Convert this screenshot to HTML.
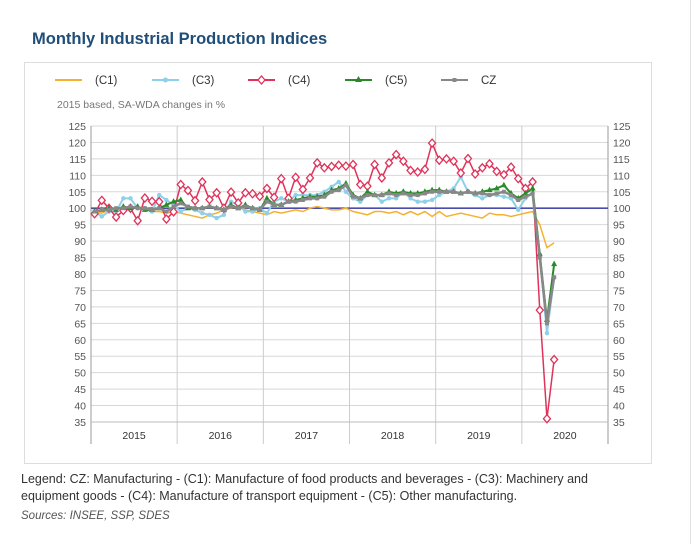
<!DOCTYPE html>
<html><head><meta charset="utf-8"><style>
body{margin:0;width:698px;height:544px;background:#fff;font-family:"Liberation Sans",sans-serif;position:relative;overflow:hidden}
.t{position:absolute;white-space:nowrap}
</style></head><body>
<div style="position:absolute;left:0;top:0;width:690px;height:544px;border-right:1px solid #e2e2e2"></div>
<div class="t" style="left:32px;top:30px;font-size:16.5px;font-weight:bold;color:#1f4e79">Monthly Industrial Production Indices</div>
<div style="position:absolute;left:24px;top:62px;width:626px;height:400px;border:1px solid #ddd"></div>
<svg id="c" width="698" height="544" style="position:absolute;left:0;top:0" font-family="Liberation Sans, sans-serif"></svg>
<div class="t" style="left:21px;top:471px;font-size:12.5px;color:#333;line-height:17px;white-space:normal;width:618px">Legend: CZ: Manufacturing - (C1): Manufacture of food products and beverages - (C3): Machinery and equipment goods - (C4): Manufacture of transport equipment - (C5): Other manufacturing.</div>
<div class="t" style="left:21px;top:510px;font-size:11.5px;color:#555;font-style:italic">Sources: INSEE, SSP, SDES</div>
<script>
const years=["2015","2016","2017","2018","2019","2020"];
const yTicks=[35,40,45,50,55,60,65,70,75,80,85,90,95,100,105,110,115,120,125];
const c1=[99,98.5,99.5,100,100,100.5,100,99.5,99,99,98.5,99, 98.5,98,97.5,97,98,98.5,99.5,100,100.5,99.5,99,98.5, 98,99,98.5,99,99.5,99,100,100.5,100,99.5,99.5,100, 99,98.5,98,99,99,98.5,99,98,99,98,99,97.5, 99,97.5,98,98.5,98,97.5,97,98.5,98,98,97.5,98, 98.5,99,95,88,89.5];
const c3=[99,97.5,99,99,103,103,100,100,99,104,102.5,101, 99,100,99.5,98.5,98,97,98,102,101,99,99,100, 98.5,102,103,102,104,104,104,104,105,106.5,108,105, 103,102,104,104,102,103,103,105,103,102,102,102.5, 104,105,106,109.5,105,104,103,104,104,103.5,103,99.5, 103,104.5,86,62,79];
const c4=[98.3,102.4,100,97.3,99.3,100,96.2,103.1,102.1,102,96.7,98.9, 107.2,105.4,102.3,108,102.6,104.7,100,104.9,101.6,104.7,104.4,103.6, 106,103.3,109,103,109.4,105.7,109.2,113.8,112.3,112.7,113.1,112.8, 113.3,107.2,106.7,113.3,109.2,113.8,116.3,114.3,111.5,111,111.8,119.8, 114.6,115,114.3,110.7,115.1,110.4,112.3,113.5,111.2,110.2,112.5,109, 106,108,69,36,54];
const c5=[99,99.5,100,99.5,100.5,100,100.5,99.5,99.5,100,101,102, 102.5,100,100,100,100.5,100,99.5,101,100,101,100,99.5, 103,101,101,102,102.5,103,103.5,103.5,104,105.5,106,107.5, 104,103,105,104,104,105,104.5,105,104.5,104.5,105,105.5, 105.5,105,105,104.5,105,104.5,105,105.5,106,107,104.5,103, 104.5,106,86,66,83];
const cz=[99,99.5,99.5,100,100,100.5,100,100,99.5,100,99,100.5, 101.5,100.5,100,100,100.5,100,99.5,100.5,100,100.5,100,99.5, 102,101,101,102,102,102.5,103,103,103.5,105,105.5,107, 103.5,103,104,104,104,104.5,104,104.5,104,104,104.5,105, 105,105,105,104.5,105,104.5,104.5,104,104.5,105,104,102.5, 103.5,104.5,85,65,79];
const svg=document.getElementById('c');
const NS='http://www.w3.org/2000/svg';
const L=91,R=608,T=126,B=422,ymin=35,ymax=125;
const mw=(R-L)/72;
const xs=i=>L+(i+0.5)*mw;
const ys=v=>B-(v-ymin)/(ymax-ymin)*(B-T);
function el(tag,a,parent){const e=document.createElementNS(NS,tag);for(const k in a)e.setAttribute(k,a[k]);(parent||svg).appendChild(e);return e;}
yTicks.forEach(v=>{
 const g=el('line',{x1:L,x2:R,y1:ys(v),y2:ys(v),stroke:'#d8d8d8','stroke-width':1});
 
 
 const t1=el('text',{x:86,y:ys(v)+4,'text-anchor':'end','font-size':10.5,fill:'#555'});t1.textContent=v;
 
 
 const t2=el('text',{x:613,y:ys(v)+4,'font-size':10.5,fill:'#555'});t2.textContent=v;
 
 
});
for(let k=0;k<=6;k++){
 const x=L+k*12*mw;
 const vl=el('line',{x1:x,x2:x,y1:T,y2:444,stroke:(k==0||k==6)?'#999':'#ccc','stroke-width':1});
 
 
}
years.forEach((y,k)=>{
 const t=el('text',{x:L+(k*12+6)*mw,y:439,'text-anchor':'middle','font-size':10.5,fill:'#333'});t.textContent=y;
 
 
});
const bl=el('line',{x1:L,x2:R,y1:B,y2:B,stroke:'#bbb'});


const ref=el('line',{x1:L,x2:R,y1:ys(100),y2:ys(100),stroke:'#4b4bab','stroke-width':1.6});


function series(data,color,marker,name,w){
 const g=el('g',{});
 
 
 el('polyline',{points:data.map((v,i)=>xs(i)+','+ys(v)).join(' '),fill:'none',stroke:color,'stroke-width':w},g);
 data.forEach((v,i)=>{
  const x=xs(i),y=ys(v);let m;
  if(marker=='circle')m=el('circle',{cx:x,cy:y,r:2.2,fill:color},g);
  else if(marker=='diamond')m=el('polygon',{points:`${x},${y-4} ${x+3.5},${y} ${x},${y+4} ${x-3.5},${y}`,fill:'#fff',stroke:color,'stroke-width':1.3},g);
  else if(marker=='tri')m=el('polygon',{points:`${x},${y-3.5} ${x+3},${y+2} ${x-3},${y+2}`,fill:color},g);
  else if(marker=='sq')m=el('rect',{x:x-2,y:y-2,width:4,height:4,fill:color},g);
  if(m){
  }
 });
}
series(c1,'#f5b030',null,'series-c1',1.5);
series(c3,'#8ecfea','circle','series-c3',2);
series(c4,'#e0325a','diamond','series-c4',1.5);
series(c5,'#2a8a2a','tri','series-c5',2);
series(cz,'#888888','sq','series-cz',2.5);
const leg=[['(C1)','#f5b030',null,55],['(C3)','#8ecfea','circle',152],['(C4)','#e0325a','diamond',248],['(C5)','#2a8a2a','tri',345],['CZ','#888888','sq',441]];
leg.forEach(([lab,col,mk,x])=>{
 const g=el('g',{});
 
 
 el('line',{x1:x,x2:x+27,y1:80,y2:80,stroke:col,'stroke-width':2},g);
 const cx=x+13.5,cy=80;
 if(mk=='circle')el('circle',{cx,cy,r:2.5,fill:col},g);
 if(mk=='diamond')el('polygon',{points:`${cx},${cy-4} ${cx+3.5},${cy} ${cx},${cy+4} ${cx-3.5},${cy}`,fill:'#fff',stroke:col,'stroke-width':1.3},g);
 if(mk=='tri')el('polygon',{points:`${cx},${cy-4} ${cx+3.5},${cy+2} ${cx-3.5},${cy+2}`,fill:col},g);
 if(mk=='sq')el('rect',{x:cx-2,y:cy-2,width:4,height:4,fill:col},g);
 const t=el('text',{x:x+40,y:84,'font-size':11.5,fill:'#333'},g);t.textContent=lab;
});
const st=el('text',{x:57,y:108,'font-size':10.5,fill:'#777'});st.textContent='2015 based, SA-WDA changes in %';


</script>
</body></html>
